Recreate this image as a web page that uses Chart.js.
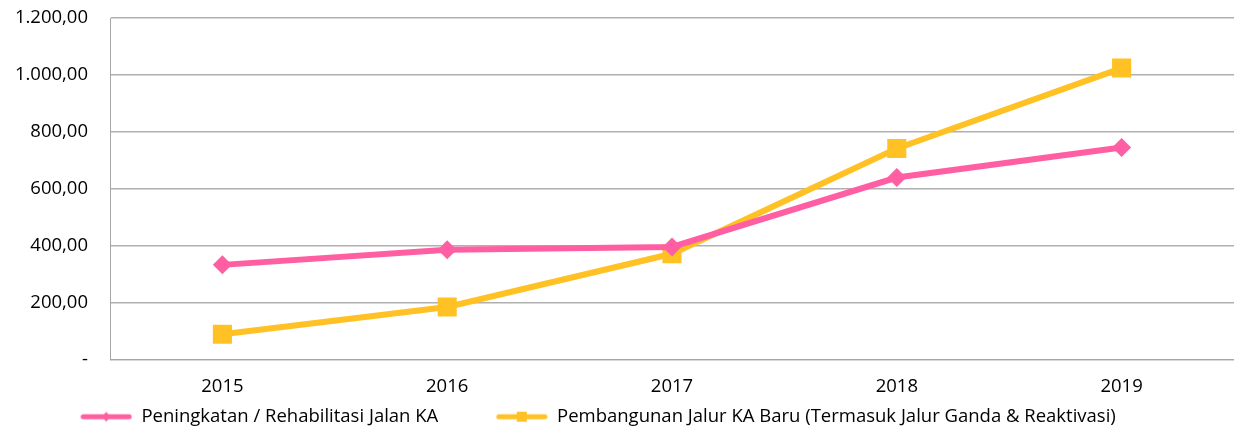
<!DOCTYPE html>
<html>
<head>
<meta charset="utf-8">
<script src="https://cdn.jsdelivr.net/npm/chart.js@4"></script>
<style>
  html, body { margin: 0; padding: 0; background: #fff; overflow: hidden; }
  #wrap { width: 1234px; height: 430px; }
  canvas { display: block; }
</style>
</head>
<body>
<div id="wrap"><canvas id="chart" width="1234" height="430"></canvas></div>
<script>
const years = ['2015', '2016', '2017', '2018', '2019'];
const rehabilitasi = [332, 385, 395, 639, 745];
const pembangunan = [88, 184, 371, 741, 1024];
const seriesNames = [
    'Peningkatan / Rehabilitasi Jalan KA',
    'Pembangunan Jalur KA Baru (Termasuk Jalur Ganda & Reaktivasi)'
];
const pink = '#FF5FA2';
const gold = '#FFC124';
const fontFamily = 'Open Sans';
const fontSize = 18.5;

// legend swatch: a short line with the marker in the middle
function legendIcon(color, shape) {
    const c = document.createElement('canvas');
    c.width = 52; c.height = 14;
    const g = c.getContext('2d');
    g.strokeStyle = color;
    g.lineWidth = 5;
    g.lineCap = 'round';
    g.beginPath(); g.moveTo(3, 7); g.lineTo(49, 7); g.stroke();
    g.fillStyle = color;
    if (shape === 'diamond') {
        g.beginPath(); g.moveTo(26, 2); g.lineTo(30, 7); g.lineTo(26, 12); g.lineTo(22, 7); g.closePath(); g.fill();
    } else {
        g.fillRect(21, 2, 10, 10);
    }
    return c;
}
const icons = [legendIcon(pink, 'diamond'), legendIcon(gold, 'square')];

function fmt(v) {
    if (v === 0) return '-';
    return v.toLocaleString('de-DE', { minimumFractionDigits: 2, maximumFractionDigits: 2 });
}

// the original legend sits a little left of centre
const legendShift = {
    id: 'legendShift',
    afterLayout(ch) {
        ch.legend.left -= 27;
        ch.legend.right -= 27;
    }
};

const ctx = document.getElementById('chart').getContext('2d');
const chart = new Chart(ctx, {
    type: 'line',
    data: {
        labels: years,
        datasets: [
            {
                label: seriesNames[0],
                data: rehabilitasi,
                borderColor: pink,
                backgroundColor: pink,
                borderWidth: 6,
                pointStyle: 'rectRot',
                pointRadius: 9.5,
                pointBorderWidth: 0,
                fill: false
            },
            {
                label: seriesNames[1],
                data: pembangunan,
                borderColor: gold,
                backgroundColor: gold,
                borderWidth: 6,
                pointStyle: 'rect',
                pointRadius: 13.5,
                pointBorderWidth: 0,
                fill: false
            }
        ]
    },
    options: {
        responsive: false,
        animation: false,
        layout: { autoPadding: false, padding: { top: 0, right: 0, left: 16, bottom: -6 } },
        plugins: {
            tooltip: { enabled: false },
            legend: {
                position: 'bottom',
                labels: {
                    usePointStyle: true,
                    pointStyleWidth: 52,
                    boxHeight: 14,
                    padding: 2,
                    color: '#000',
                    font: { family: fontFamily, size: fontSize },
                    generateLabels(ch) {
                        const items = Chart.defaults.plugins.legend.labels.generateLabels(ch);
                        items.forEach((it, i) => { it.pointStyle = icons[i]; });
                        // wider gap between the two entries
                        items[0].text += '\u2003\u2003\u2003';
                        return items;
                    }
                }
            }
        },
        scales: {
            x: {
                offset: true,
                grid: { display: false },
                border: { display: true, color: '#A6A6A6' },
                ticks: { color: '#000', font: { family: fontFamily, size: fontSize }, padding: 8 }
            },
            y: {
                min: 0,
                max: 1200,
                ticks: {
                    stepSize: 200,
                    color: '#000',
                    padding: 22,
                    font: { family: fontFamily, size: fontSize },
                    callback: v => fmt(v)
                },
                grid: { color: '#B0B0B0', lineWidth: 1.5, drawTicks: false },
                border: { display: true, color: '#A6A6A6' },
                // chart.js counts tick padding twice; keep the axis where the original has it
                afterFit(scale) {
                    scale.width = 94;
                    scale.paddingTop = 18;
                    scale.paddingBottom = 12;
                }
            }
        }
    },
    plugins: [legendShift]
});
</script>
</body>
</html>
